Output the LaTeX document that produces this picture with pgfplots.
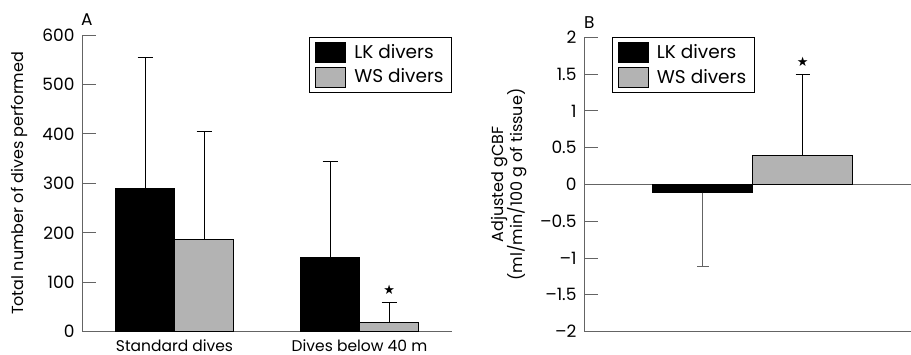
\documentclass[border=0pt]{standalone}
\usepackage{fontspec}
\setmainfont{Poppins}
\newfontfamily\symfont{DejaVu Sans}
\usepackage{pgfplots}
\pgfplotsset{compat=1.18}
\definecolor{barGray}{RGB}{179,179,179}
\definecolor{axGray}{RGB}{100,100,100}
\begin{document}
\fontsize{16}{19}\selectfont
\begin{tikzpicture}
\useasboundingbox (0,0) rectangle (911pt,355pt);
\pgfplotsset{
  boxlegend/.style={legend image code/.code={\draw[##1,draw=black,line width=0.8pt] (0pt,-10pt) rectangle (30pt,10pt);}},
  every axis/.append style={
    scale only axis,
    axis x line=bottom, axis y line=left,
    axis line style={-, axGray, line width=0.8pt},
    tick style={axGray, line width=0.8pt},
    tick align=inside,
    major tick length=14pt,
    /pgf/number format/assume math mode=true,
    yticklabel style={font=\fontsize{17}{20}\selectfont, xshift=-2pt},
    xticklabel style={font=\fontsize{15.5}{18}\selectfont},
    ylabel style={font=\fontsize{16}{19.5}\selectfont},
    legend cell align=left,
    legend style={font=\fontsize{18.5}{22}\selectfont, draw=black, line width=0.8pt,
      row sep=4pt, column sep=6pt, inner xsep=6pt, inner ysep=4.5pt,
      nodes={inner xsep=2pt}},
  }
}
% ---------- Panel A ----------
\begin{axis}[
  at={(82pt,23.3pt)}, anchor=south west,
  width=370pt, height=296.7pt,
  ybar=0pt, bar width=59pt, boxlegend,
  xmin=0, xmax=2, ymin=0, ymax=600,
  ytick={0,100,...,600},
  xtick={0.5,1.5},
  xticklabels={Standard dives, Dives below 40 m},
  xticklabel style={yshift=12pt},
  xtick style={draw=none},
  extra x ticks={1,2},
  extra x tick labels={},
  extra x tick style={major tick length=13pt, draw=axGray},
  ylabel={Total number of dives performed},
  ylabel style={yshift=4pt},
  legend style={at={(1,1)}, anchor=north east, yshift=-2pt},
  clip=false,
]
\addplot[fill=black, draw=black, line width=0.8pt,
  error bars/.cd, y dir=plus, y explicit,
  error bar style={black, line width=0.8pt},
  error mark options={rotate=90, black, mark size=7.5pt, line width=0.8pt}]
  coordinates {(0.5,290) +- (0,265) (1.5,150) +- (0,195)};
\addlegendentry{LK divers}
\addplot[fill=barGray, draw=black, line width=0.8pt,
  error bars/.cd, y dir=plus, y explicit,
  error bar style={black, line width=0.8pt},
  error mark options={rotate=90, black, mark size=7.5pt, line width=0.8pt}]
  coordinates {(0.5,187) +- (0,218) (1.5,19) +- (0,40)};
\addlegendentry{WS divers}
\node at (axis cs:1.66,84) {\symfont\fontsize{13}{13}\selectfont ★};
\node[anchor=south west, inner sep=0pt, font=\fontsize{17}{20}\selectfont] at (rel axis cs:0,1) [yshift=9pt, xshift=-1pt] {A};
\end{axis}
% ---------- Panel B ----------
\begin{axis}[
  at={(584pt,23.3pt)}, anchor=south west,
  width=327pt, height=294.4pt,
  ybar=0pt, bar width=100pt, boxlegend,
  xmin=0, xmax=1, ymin=-2, ymax=2,
  ytick={-2,-1.5,...,2},
  yticklabels={–2,–1.5,–1,–0.5,0,0.5,1,1.5,2},
  xtick=\empty,
  extra y ticks={0},
  extra y tick labels={},
  extra y tick style={grid=major, major grid style={axGray, line width=0.8pt}},
  ylabel={Adjusted gCBF\\(ml/min/100 g of tissue)},
  ylabel style={align=center, yshift=2pt},
  legend style={at={(0,1)}, anchor=north west, xshift=27.7pt},
  clip=false,
]
\addplot[fill=black, draw=black, line width=0.8pt,
  error bars/.cd, y dir=minus, y explicit,
  error bar style={axGray, line width=0.8pt},
  error mark options={rotate=90, axGray, mark size=6pt, line width=0.8pt}]
  coordinates {(0.516,-0.11) +- (0,1.0)};
\addlegendentry{LK divers}
\addplot[fill=barGray, draw=black, line width=0.8pt,
  error bars/.cd, y dir=plus, y explicit,
  error bar style={black, line width=0.8pt},
  error mark options={rotate=90, black, mark size=7pt, line width=0.8pt}]
  coordinates {(0.516,0.40) +- (0,1.09)};
\addlegendentry{WS divers}
\node at (axis cs:0.669,1.66) {\symfont\fontsize{13}{13}\selectfont ★};
\node[anchor=south west, inner sep=0pt, font=\fontsize{17}{20}\selectfont] at (rel axis cs:0,1) [yshift=9pt, xshift=0pt] {B};
\end{axis}
\end{tikzpicture}
\end{document}
